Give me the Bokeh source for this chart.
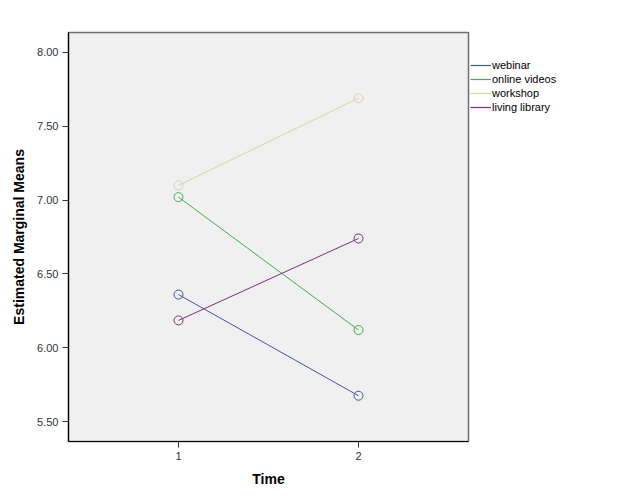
from bokeh.plotting import figure
from bokeh.layouts import row
from bokeh.models import Legend, LegendItem, NumeralTickFormatter, FixedTicker, Range1d
from bokeh.embed import file_html
from bokeh.resources import INLINE

times = [1, 2]
series_names = ["webinar", "online videos", "workshop", "living library"]
webinar = [6.36, 5.675]
online_videos = [7.02, 6.12]
workshop = [7.10, 7.69]
living_library = [6.185, 6.74]
colors = ["#3F56A8", "#3DB04A", "#D6D3A6", "#7B2D7F"]
y_ticks = [5.5, 6.0, 6.5, 7.0, 7.5, 8.0]
x_ticks = [1, 2]

FONT = "Liberation Sans"
H = 493

p = figure(width=470, height=H, output_backend="svg", toolbar_location=None,
           x_range=Range1d(0.389, 2.611), y_range=Range1d(5.365, 8.135),
           min_border_left=68, min_border_right=2, min_border_top=32, min_border_bottom=52)
p.background_fill_color = "#F0F0F0"
p.border_fill_color = "white"
p.outline_line_color = "#6E6E6E"
p.outline_line_width = 1.5
p.grid.visible = False

for ax in (p.xaxis[0], p.yaxis[0]):
    ax.axis_line_color = "black"
    ax.axis_line_width = 1.2
    ax.major_tick_line_color = "#333333"
    ax.major_tick_out = 6
    ax.major_tick_in = 0
    ax.major_label_standoff = 4
    ax.minor_tick_line_color = None
    ax.major_label_text_font = FONT
    ax.major_label_text_font_size = "11px"
    ax.major_label_text_color = "#333333"
    ax.axis_label_text_font = FONT
    ax.axis_label_text_font_size = "14px"
    ax.axis_label_text_font_style = "bold"
    ax.axis_label_text_color = "black"

p.xaxis.axis_label = "Time"
p.yaxis.axis_label = "Estimated Marginal Means"
p.xaxis.ticker = FixedTicker(ticks=x_ticks)
p.yaxis.ticker = FixedTicker(ticks=y_ticks)
p.yaxis.formatter = NumeralTickFormatter(format="0.00")
p.xaxis.axis_label_standoff = 8
p.yaxis.axis_label_standoff = 7

series = [webinar, online_videos, workshop, living_library]
for vals, c in zip(series, colors):
    p.line(times, vals, line_color=c, line_width=1)
    p.scatter(times, vals, marker="circle", size=9, fill_color=None, line_color=c, line_width=1)

# legend panel to the right of the plot frame
p2 = figure(width=150, height=H, output_backend="svg", toolbar_location=None,
            x_axis_type=None, y_axis_type=None,
            x_range=Range1d(0, 1), y_range=Range1d(0, 1),
            min_border_left=0, min_border_right=0, min_border_top=0, min_border_bottom=0)
p2.outline_line_color = None
p2.background_fill_color = "white"
p2.border_fill_color = "white"
p2.grid.visible = False

items = []
for name, vals, c in zip(series_names, series, colors):
    r = p2.line(times, vals, line_color=c, line_width=1.2, visible=False)
    items.append(LegendItem(label=name, renderers=[r]))

legend = Legend(items=items, location=(0, 328))
legend.click_policy = "none"
legend.inactive_fill_alpha = 0
legend.border_line_color = None
legend.background_fill_alpha = 0
legend.label_text_font = FONT
legend.label_text_font_size = "11px"
legend.label_text_color = "black"
legend.glyph_width = 21
legend.glyph_height = 12
legend.spacing = 2
legend.padding = 0
legend.margin = 0
legend.label_standoff = 1
legend.label_height = 12
p2.add_layout(legend, "center")

layout = row(p, p2, spacing=0)
open("out.html", "w").write(file_html(layout, INLINE))
